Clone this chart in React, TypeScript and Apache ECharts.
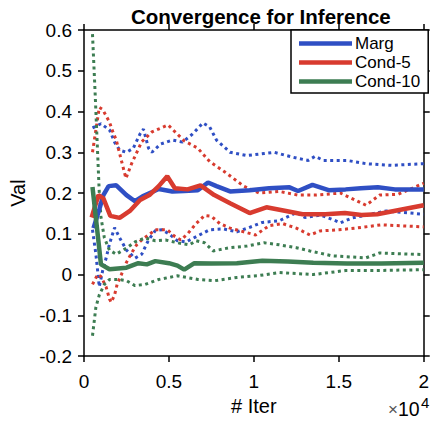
import React, { useEffect, useRef } from "react";
import * as echarts from "echarts";

// x in units of 1e4 iterations
const margX = [0.056, 0.09, 0.114, 0.145, 0.19, 0.25, 0.3, 0.345, 0.44, 0.52, 0.59, 0.67, 0.73, 0.78, 0.86, 0.975, 1.09, 1.21, 1.26, 1.345, 1.44, 1.54, 1.63, 1.73, 1.83, 2.0];
const margY = [0.114, 0.16, 0.195, 0.217, 0.219, 0.195, 0.18, 0.192, 0.21, 0.204, 0.205, 0.207, 0.226, 0.217, 0.204, 0.207, 0.212, 0.214, 0.205, 0.22, 0.207, 0.209, 0.212, 0.214, 0.209, 0.209];

const cond5X = [0.045, 0.085, 0.114, 0.155, 0.21, 0.27, 0.33, 0.385, 0.44, 0.49, 0.535, 0.61, 0.686, 0.767, 0.86, 0.975, 1.074, 1.189, 1.287, 1.42, 1.536, 1.634, 1.726, 1.825, 2.0];
const cond5Y = [0.14, 0.195, 0.187, 0.144, 0.139, 0.156, 0.183, 0.195, 0.217, 0.241, 0.212, 0.209, 0.219, 0.195, 0.175, 0.151, 0.165, 0.156, 0.148, 0.148, 0.151, 0.146, 0.148, 0.156, 0.17];

const cond10X = [0.05, 0.1, 0.15, 0.25, 0.32, 0.37, 0.42, 0.5, 0.55, 0.59, 0.65, 0.75, 0.9, 1.05, 1.2, 1.35, 1.55, 1.75, 2.0];
const cond10Y = [0.215, 0.025, 0.013, 0.017, 0.028, 0.025, 0.033, 0.028, 0.022, 0.012, 0.028, 0.027, 0.028, 0.034, 0.032, 0.029, 0.027, 0.027, 0.029];

const margUpX = [0.05, 0.1, 0.15, 0.18, 0.21, 0.25, 0.29, 0.33, 0.35, 0.38, 0.4, 0.45, 0.52, 0.58, 0.64, 0.7, 0.74, 0.78, 0.86, 0.96, 1.06, 1.12, 1.19, 1.26, 1.32, 1.36, 1.41, 1.55, 1.66, 1.81, 2.0];
const margUpY = [0.36, 0.37, 0.355, 0.325, 0.305, 0.3, 0.31, 0.345, 0.357, 0.31, 0.3, 0.32, 0.33, 0.325, 0.345, 0.372, 0.362, 0.33, 0.3, 0.292, 0.297, 0.3, 0.292, 0.285, 0.28, 0.29, 0.28, 0.28, 0.272, 0.268, 0.272];

const margLoX = [0.05, 0.07, 0.09, 0.11, 0.13, 0.15, 0.18, 0.21, 0.25, 0.3, 0.34, 0.38, 0.42, 0.46, 0.5, 0.55, 0.6, 0.67, 0.74, 0.82, 0.9, 0.97, 1.05, 1.15, 1.25, 1.3, 1.39, 1.47, 1.51, 1.58, 1.78, 2.0];
const margLoY = [0.11, 0.05, -0.03, 0.01, 0.04, 0.075, 0.115, 0.09, 0.06, 0.04, 0.05, 0.085, 0.108, 0.11, 0.1, 0.083, 0.08, 0.095, 0.11, 0.112, 0.105, 0.115, 0.128, 0.132, 0.152, 0.14, 0.146, 0.134, 0.127, 0.139, 0.156, 0.148];

const cond5UpX = [0.05, 0.09, 0.11, 0.15, 0.17, 0.19, 0.22, 0.247, 0.28, 0.34, 0.4, 0.495, 0.59, 0.67, 0.74, 0.825, 0.94, 1.03, 1.15, 1.26, 1.36, 1.51, 1.66, 1.74, 1.85, 2.0];
const cond5UpY = [0.3, 0.41, 0.405, 0.374, 0.35, 0.33, 0.28, 0.236, 0.272, 0.326, 0.35, 0.367, 0.328, 0.31, 0.277, 0.253, 0.217, 0.2, 0.204, 0.195, 0.195, 0.2, 0.17, 0.195, 0.197, 0.224];

const cond5LoX = [0.05, 0.08, 0.1, 0.13, 0.15, 0.16, 0.18, 0.195, 0.22, 0.25, 0.28, 0.31, 0.34, 0.38, 0.42, 0.49, 0.53, 0.57, 0.61, 0.66, 0.71, 0.75, 0.8, 0.86, 0.94, 1.01, 1.09, 1.17, 1.25, 1.33, 1.39, 1.5, 1.6, 1.75, 2.0];
const cond5LoY = [-0.024, 0.0, -0.005, -0.03, -0.06, -0.068, -0.05, -0.024, 0.0, 0.03, 0.053, 0.073, 0.085, 0.097, 0.11, 0.11, 0.095, 0.085, 0.1, 0.125, 0.145, 0.143, 0.125, 0.114, 0.105, 0.097, 0.12, 0.125, 0.114, 0.097, 0.107, 0.11, 0.114, 0.122, 0.117];

const cond10UpX = [0.05, 0.065, 0.08, 0.09, 0.1, 0.12, 0.15, 0.19, 0.25, 0.3, 0.36, 0.42, 0.48, 0.55, 0.62, 0.66, 0.71, 0.76, 0.86, 0.96, 1.06, 1.15, 1.25, 1.33, 1.46, 1.66, 1.74, 2.0];
const cond10UpY = [0.59, 0.45, 0.3, 0.2, 0.14, 0.09, 0.06, 0.05, 0.065, 0.08, 0.09, 0.083, 0.085, 0.078, 0.073, 0.083, 0.078, 0.058, 0.066, 0.07, 0.078, 0.073, 0.066, 0.058, 0.046, 0.041, 0.053, 0.049];

const cond10LoX = [0.05, 0.07, 0.09, 0.12, 0.15, 0.2, 0.25, 0.3, 0.36, 0.44, 0.55, 0.67, 0.77, 0.9, 1.02, 1.15, 1.35, 1.54, 1.73, 2.0];
const cond10LoY = [-0.15, -0.08, -0.05, -0.024, -0.012, -0.012, -0.015, -0.027, -0.024, -0.012, -0.003, -0.012, -0.015, -0.007, -0.003, 0.005, 0.0, 0.01, 0.01, 0.012];

const legendNames = ["Marg", "Cond-5", "Cond-10"];
const xTicks = { min: 0, max: 2, interval: 0.5 };
const yTicks = { min: -0.2, max: 0.6, interval: 0.1 };

const BLUE = "#2f4fc4";
const RED = "#d83b2f";
const GREEN = "#3d7d52";

const zip = (xs: number[], ys: number[]) => xs.map((x, i) => [x, ys[i]]);

const fmt = (v: number) => {
  const n = Number(v.toFixed(1));
  return (Object.is(n, -0) ? 0 : n).toString();
};

export default function App() {
  const ref = useRef<HTMLDivElement>(null);
  useEffect(() => {
    if (!ref.current) return;
    const chart = echarts.init(ref.current, undefined, { renderer: "svg" });
    const font = "Liberation Sans, Arial, Helvetica, sans-serif";
    const axisLine = { show: true, onZero: false, lineStyle: { color: "#000", width: 1.5 } };
    const axisTick = { show: true, length: 6, lineStyle: { color: "#000", width: 1.5 } };
    const dotted = (name: string, xs: number[], ys: number[], color: string) => ({
      name,
      type: "line",
      data: zip(xs, ys),
      showSymbol: false,
      symbol: "none",
      lineStyle: { color, width: 3, type: [3, 3.5] },
      itemStyle: { color },
      z: 2,
    });
    const solid = (name: string, xs: number[], ys: number[], color: string) => ({
      name,
      type: "line",
      data: zip(xs, ys),
      showSymbol: false,
      symbol: "none",
      lineStyle: { color, width: 4.5 },
      itemStyle: { color },
      z: 3,
    });
    chart.setOption({
      animation: false,
      backgroundColor: "#fff",
      textStyle: { fontFamily: font },
      title: {
        text: "Convergence for Inference",
        left: 126,
        top: 1,
        textStyle: { fontSize: 20.5, fontWeight: "bold", color: "#000", fontFamily: font },
      },
      grid: { left: 84, right: 2, top: 30, bottom: 62, containLabel: false },
      legend: {
        data: legendNames,
        orient: "vertical",
        left: 291,
        top: 30,
        padding: [5, 8, 3, 8],
        itemGap: 2,
        itemWidth: 53,
        itemHeight: 4.5,
        icon: "rect",
        borderColor: "#000",
        borderWidth: 1.5,
        backgroundColor: "#fff",
        textStyle: { fontSize: 17, color: "#000", fontFamily: font, padding: [0, 0, 0, -2] },
      },
      xAxis: [
        {
          type: "value",
          ...xTicks,
          position: "bottom",
          axisLine,
          axisTick,
          splitLine: { show: false },
          axisLabel: { color: "#000", fontSize: 19, lineHeight: 17, margin: 17, formatter: fmt, fontFamily: font },
          name: "# Iter",
          nameLocation: "middle",
          nameGap: 33,
          nameTextStyle: { color: "#000", fontSize: 20, fontFamily: font },
        },
        {
          type: "value",
          ...xTicks,
          position: "top",
          axisLine,
          axisTick,
          splitLine: { show: false },
          axisLabel: { show: false },
        },
      ],
      yAxis: [
        {
          type: "value",
          ...yTicks,
          position: "left",
          axisLine,
          axisTick,
          splitLine: { show: false },
          axisLabel: { color: "#000", fontSize: 19, margin: 12, formatter: fmt, fontFamily: font },
          name: "Val",
          nameLocation: "middle",
          nameGap: 55,
          nameTextStyle: { color: "#000", fontSize: 20, fontFamily: font },
        },
        {
          type: "value",
          ...yTicks,
          position: "right",
          axisLine,
          axisTick,
          splitLine: { show: false },
          axisLabel: { show: false },
        },
      ],
      graphic: [
        {
          type: "text",
          left: 388,
          top: 401,
          style: { text: "×", fontSize: 17, fill: "#555", fontFamily: font },
        },
        {
          type: "text",
          left: 398,
          top: 399,
          style: { text: "10", fontSize: 19.5, fill: "#000", fontFamily: font },
        },
        {
          type: "text",
          left: 421,
          top: 395,
          style: { text: "4", fontSize: 15, lineHeight: 12, fill: "#000", fontFamily: font },
        },
      ],
      series: [
        dotted("Marg upper", margUpX, margUpY, BLUE),
        dotted("Marg lower", margLoX, margLoY, BLUE),
        dotted("Cond-5 upper", cond5UpX, cond5UpY, RED),
        dotted("Cond-5 lower", cond5LoX, cond5LoY, RED),
        dotted("Cond-10 upper", cond10UpX, cond10UpY, GREEN),
        dotted("Cond-10 lower", cond10LoX, cond10LoY, GREEN),
        solid("Marg", margX, margY, BLUE),
        solid("Cond-5", cond5X, cond5Y, RED),
        solid("Cond-10", cond10X, cond10Y, GREEN),
      ],
    });
    return () => chart.dispose();
  }, []);
  return (
    <div
      ref={ref}
      style={{ position: "absolute", left: 0, top: 0, width: 432, height: 421 }}
    />
  );
}
